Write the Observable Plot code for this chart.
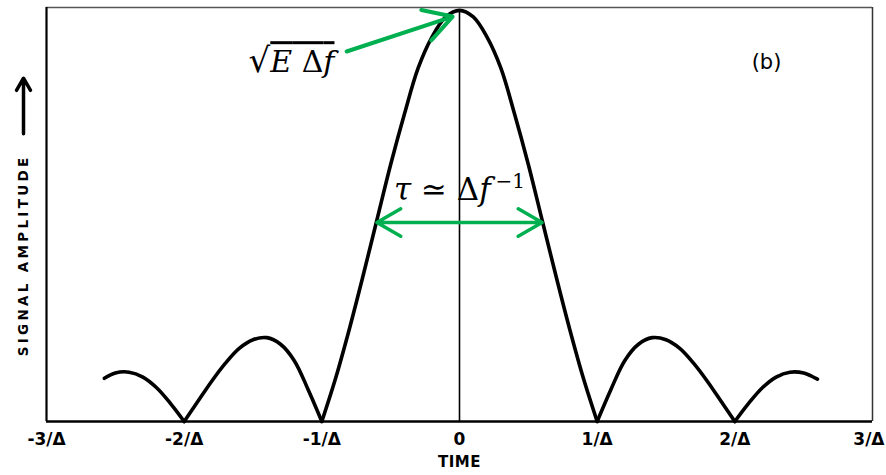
<!DOCTYPE html>
<html>
<head>
<meta charset="utf-8">
<script src="https://cdn.jsdelivr.net/npm/d3@7"></script>
<script src="https://cdn.jsdelivr.net/npm/@observablehq/plot@0.6"></script>
<style>
  body { margin: 0; background: #fff; }
</style>
</head>
<body>
<div id="chart"></div>
<script>
// Time axis ticks (in units of 1/Δ) and their labels
const tickValues = [-3, -2, -1, 0, 1, 2, 3];
const tickLabels = ["-3/Δ", "-2/Δ", "-1/Δ", "0", "1/Δ", "2/Δ", "3/Δ"];

// Pulse envelope, one array per lobe (time in 1/Δ, amplitude relative to peak)
const lobeTimes = [
  [-2.58, -2.5, -2.4, -2.3, -2.2, -2.1, -2.0],
  [-2.0, -1.9, -1.8, -1.7, -1.6, -1.5, -1.4, -1.3, -1.2, -1.1, -1.0],
  [-1.0, -0.9, -0.8, -0.7, -0.6, -0.5, -0.4, -0.3, -0.2, -0.1, 0, 0.1, 0.2, 0.3, 0.4, 0.5, 0.6, 0.7, 0.8, 0.9, 1.0],
  [1.0, 1.1, 1.2, 1.3, 1.4, 1.5, 1.6, 1.7, 1.8, 1.9, 2.0],
  [2.0, 2.1, 2.2, 2.3, 2.4, 2.5, 2.6]
];
const lobeAmps = [
  [0.105, 0.118, 0.12, 0.108, 0.082, 0.044, 0],
  [0, 0.049, 0.098, 0.142, 0.178, 0.199, 0.204, 0.188, 0.148, 0.078, 0],
  [0, 0.105, 0.225, 0.355, 0.49, 0.625, 0.748, 0.86, 0.935, 0.984, 1.0, 0.984, 0.935, 0.86, 0.748, 0.625, 0.49, 0.355, 0.225, 0.105, 0],
  [0, 0.078, 0.148, 0.188, 0.204, 0.199, 0.178, 0.142, 0.098, 0.049, 0],
  [0, 0.044, 0.082, 0.108, 0.12, 0.118, 0.103]
];

// Annotations
const widthLabel = "τ ≃ Δf⁻¹";
const widthSpan = [-0.6, 0.6];     // pulse width arrow ends
const widthLevel = 0.484;
const peakLabel = "√E Δf";
const peakPointer = {x1: -0.82, y1: 0.9, x2: -0.05, y2: 0.985};
const panelLabel = "(b)";
const xTitle = "TIME";
const yTitle = "SIGNAL AMPLITUDE";

const green = "#00b050";
const yTop = 1.007;

const rows = lobeTimes.flatMap((ts, i) => ts.map((t, j) => ({lobe: i, t, a: lobeAmps[i][j]})));
const tickText = d => tickLabels[tickValues.indexOf(d)];
const tickStyle = {y: 0, dy: 18, fontSize: 17, fontWeight: "bold"};

const chart = Plot.plot({
  width: 886,
  height: 475,
  marginLeft: 46,
  marginRight: 14,
  marginTop: 7,
  marginBottom: 54,
  x: {domain: [-3, 3], axis: null},
  y: {domain: [0, yTop], axis: null},
  style: {fontFamily: "DejaVu Sans", color: "#000", background: "#fff"},
  marks: [
    // frame
    Plot.ruleY([yTop], {x1: -3, x2: 3, stroke: "#555", strokeWidth: 1.4}),
    Plot.ruleX([3], {y1: 0, y2: yTop, stroke: "#333", strokeWidth: 1.5}),
    Plot.ruleX([-3], {y1: 0, y2: yTop, stroke: "#000", strokeWidth: 2.2}),
    Plot.ruleY([0], {x1: -3, x2: 3, stroke: "#000", strokeWidth: 2.5}),
    // zero-time line
    Plot.ruleX([0], {y1: 0, y2: 1, stroke: "#000", strokeWidth: 1.6}),
    // envelope
    Plot.line(rows, {x: "t", y: "a", z: "lobe", curve: "catmull-rom", stroke: "#000", strokeWidth: 3.6}),
    // tick labels (the last one is right-aligned to stay inside the page)
    Plot.text(tickValues.slice(0, -1), {x: d => d, text: tickText, ...tickStyle}),
    Plot.text(tickValues.slice(-1), {x: d => d, text: tickText, textAnchor: "end", dx: 12, ...tickStyle}),
    Plot.text([xTitle], {frameAnchor: "bottom", dy: 45, fontSize: 15, fontWeight: "bold"}),
    Plot.text([yTitle], {x: -3, y: 0.404, dx: -23, rotate: -90, fontSize: 13.5, fontWeight: "bold"}),
    Plot.arrow([0], {x1: -3, x2: -3, y1: 0.70, y2: 0.835, dx: -23, stroke: "#000", strokeWidth: 3.5, headLength: 6}),
    // pulse width
    Plot.arrow(widthSpan, {x1: 0, x2: d => d, y1: widthLevel, y2: widthLevel, stroke: green, strokeWidth: 3.5, headLength: 14}),
    Plot.text([widthLabel], {x: 0, y: 0.562, fontSize: 31, fontFamily: "DejaVu Serif"}),
    // peak amplitude
    Plot.arrow([peakPointer], {x1: "x1", y1: "y1", x2: "x2", y2: "y2", stroke: green, strokeWidth: 4, headLength: 12}),
    Plot.text([peakLabel], {x: -1.22, y: 0.873, fontSize: 30, fontFamily: "DejaVu Serif"}),
    Plot.text([panelLabel], {x: 2.23, y: 0.873, fontSize: 21})
  ]
});

document.getElementById("chart").appendChild(chart);

// Math typesetting touches: italics, superscript, radical overline, letter spacing
const svg = d3.select(chart);
svg.selectAll("text").each(function() {
  const el = d3.select(this);
  const s = el.text();
  if (s === yTitle) el.attr("letter-spacing", "3.3px");
  if (s === xTitle) el.attr("letter-spacing", "0.5px");
  if (s === widthLabel) {
    el.text(null);
    el.append("tspan").attr("font-style", "italic").text("τ");
    el.append("tspan").text(" ≃ Δ");
    el.append("tspan").attr("font-style", "italic").text("f");
    el.append("tspan").attr("font-size", "20px").attr("dx", "5").attr("dy", "-12").text("−1");
  }
  if (s === peakLabel) {
    el.text(null);
    el.append("tspan").attr("font-size", "34px").text("√");
    const r = el.append("tspan").style("text-decoration", "overline");
    r.append("tspan").attr("font-style", "italic").text("E");
    r.append("tspan").text(" Δ");
    r.append("tspan").attr("font-style", "italic").text("f");
  }
});
</script>
</body>
</html>
